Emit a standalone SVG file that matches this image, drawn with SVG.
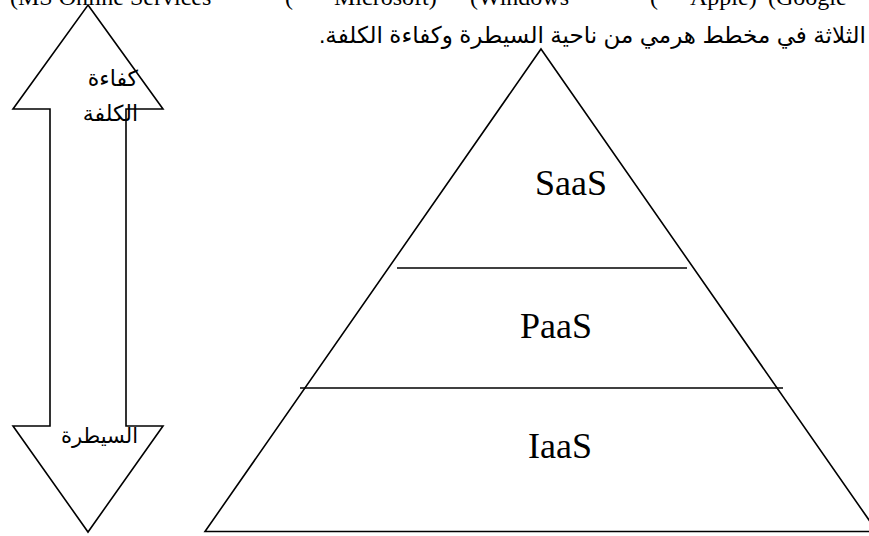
<svg xmlns="http://www.w3.org/2000/svg" width="869" height="536" viewBox="0 0 869 536">
<style>
.ln{fill:none;stroke:#000;stroke-width:1.6;stroke-linejoin:miter}
.lat{font-family:"Liberation Serif","Times New Roman",serif;fill:#000;font-size:24px}
.ar{font-family:"Liberation Sans",Arial,"DejaVu Sans","Noto Sans",sans-serif;fill:#000}
.lbl{font-family:"Liberation Serif","Times New Roman",serif;font-size:36px;fill:#000;text-anchor:middle}
</style>
<rect width="869" height="536" fill="#fff"/>
<g id="paragraph">
<text class="lat" x="10" y="5">(MS Online Services</text>
<text class="lat" x="285" y="5">(</text>
<text class="lat" x="334" y="5">Microsoft)</text>
<text class="lat" x="470" y="5">(Windows</text>
<text class="lat" x="650" y="5">(</text>
<text class="lat" x="690" y="5">Apple)</text>
<text class="lat" x="768" y="5">(Google</text>
<text class="ar" x="866" y="43" font-size="23" direction="rtl" text-anchor="start">الثلاثة في مخطط هرمي من ناحية السيطرة وكفاءة الكلفة.</text>
</g>
<g id="arrow">
<polygon class="ln" points="88,5 163,109 126,109 126,426 163,426 88,532 13,426 50,426 50,109 13,109"/>
<text class="ar" x="138" y="86" font-size="22" direction="rtl" text-anchor="start">كفاءة</text>
<text class="ar" x="138" y="121" font-size="22" direction="rtl" text-anchor="start">الكلفة</text>
<text class="ar" x="138" y="443" font-size="21" direction="rtl" text-anchor="start">السيطرة</text>
</g>
<g id="pyramid">
<polygon class="ln" points="541,49 877,531.5 205,531.5"/>
</g>
<g id="saas">
<text class="lbl" x="571" y="195">SaaS</text>
</g>
<g id="paas">
<line class="ln" x1="397" y1="268" x2="687" y2="268"/>
<text class="lbl" x="556" y="338">PaaS</text>
</g>
<g id="iaas">
<line class="ln" x1="300" y1="388" x2="783" y2="388"/>
<text class="lbl" x="560" y="458">IaaS</text>
</g>
<g id="connectors"/>
</svg>
